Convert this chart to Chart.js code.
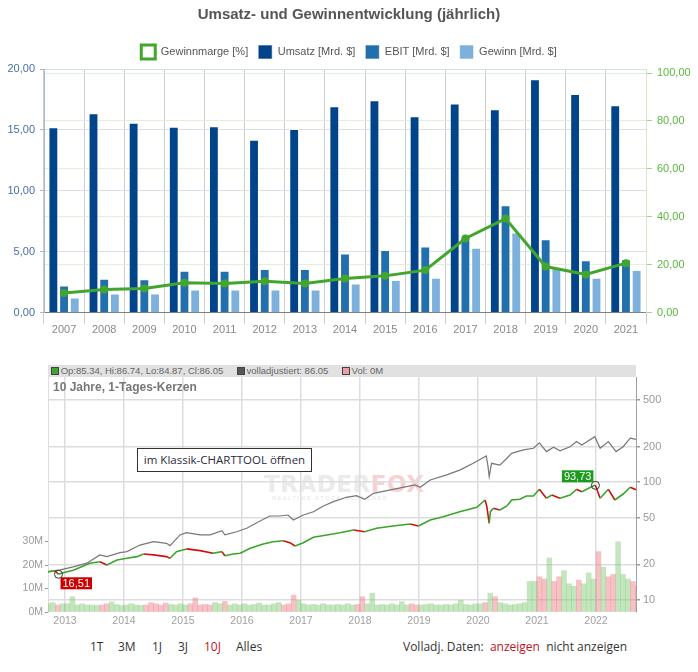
<!DOCTYPE html>
<html>
<head>
<meta charset="utf-8">
<script src="https://cdn.jsdelivr.net/npm/chart.js@4.4.1/dist/chart.umd.min.js"></script>
<style>
  body { margin: 0; background: #fff; font-family: "Liberation Sans", Arial, sans-serif; }
  #wrap { position: relative; width: 698px; height: 672px; overflow: hidden; }
  #c1 { position: absolute; left: 0; top: 0; }
  #c2 { position: absolute; left: 0; top: 360px; z-index: 2; }
  .hdr { position: absolute; left: 48px; top: 365px; width: 588px; height: 12px; background: #e1e1e1; z-index: 3;
         font-size: 9.5px; color: #666; line-height: 12px; white-space: nowrap; }
  .hdr span.sq { display: inline-block; width: 6px; height: 6px; border: 1px solid #444; vertical-align: -1px; margin-right: 2px; }
  .sub { position: absolute; left: 53px; top: 380px; font-size: 12px; font-weight: bold; color: #777; z-index: 3; }
  .wm { position: absolute; left: 264px; top: 471px; font-family: "DejaVu Sans", sans-serif; font-weight: bold;
        font-size: 23px; letter-spacing: 0.5px; color: #ebebeb; z-index: 1; }
  .wm b { color: #f8d2d2; }
  .wm2 { position: absolute; left: 272px; top: 495px; font-size: 5.5px; letter-spacing: 1.6px; color: #e6e6e6; z-index: 1; }
  .btn { position: absolute; left: 137px; top: 448px; width: 173px; height: 22px; border: 1px solid #333; background: #fff;
         font-family: "Open Sans", sans-serif; font-size: 11.5px; color: #2b2b3b; line-height: 22px; text-align: center; z-index: 3; }
  .lnk { position: absolute; top: 638px; font-family: "Open Sans", sans-serif; font-size: 12px; color: #333; white-space: nowrap; }
  .red { color: #c0141c; }
</style>
</head>
<body>
<div id="wrap">
  <canvas id="c1" width="698" height="337"></canvas>

  <div class="wm">TRADER<b>FOX</b></div>
  <div class="wm2">REALTIME STOCK SCREENER</div>
  <canvas id="c2" width="698" height="275"></canvas>

  <div class="hdr">
    &nbsp;<span class="sq" style="background:#3da52e"></span>Op:85.34, Hi:86.74, Lo:84.87, Cl:86.05
    &nbsp;&nbsp;&nbsp;&nbsp;<span class="sq" style="background:#555"></span>volladjustiert: 86.05
    &nbsp;&nbsp;&nbsp;&nbsp;<span class="sq" style="background:#eaa0a8"></span>Vol: 0M
  </div>
  <div class="sub">10 Jahre, 1-Tages-Kerzen</div>
  <div class="btn">im Klassik-CHARTTOOL öffnen</div>

  <span class="lnk" style="left:90px">1T</span>
  <span class="lnk" style="left:118px">3M</span>
  <span class="lnk" style="left:152px">1J</span>
  <span class="lnk" style="left:178px">3J</span>
  <span class="lnk red" style="left:204px">10J</span>
  <span class="lnk" style="left:236px">Alles</span>
  <span class="lnk" style="left:403px">Volladj. Daten: <span class="red">&nbsp;anzeigen</span>&nbsp; nicht anzeigen</span>
</div>

<script>
// --- annual figures (top chart) ---
const years = ['2007', '2008', '2009', '2010', '2011', '2012', '2013', '2014', '2015', '2016', '2017', '2018', '2019', '2020', '2021'];
const umsatz = [15.22, 16.37, 15.6, 15.27, 15.3, 14.2, 15.08, 16.94, 17.43, 16.12, 17.16, 16.69, 19.15, 17.95, 17.02];
const ebit = [2.24, 2.79, 2.76, 3.44, 3.44, 3.6, 3.6, 4.86, 5.16, 5.44, 6.2, 8.83, 6.04, 4.32, 4.4];
const gewinn = [1.26, 1.58, 1.58, 1.91, 1.91, 1.91, 1.91, 2.4, 2.7, 2.87, 5.33, 6.58, 3.74, 2.87, 3.52];
const marge = [8.3, 9.7, 10.1, 12.5, 12.2, 13.2, 12.2, 14.3, 15.4, 17.8, 31.0, 39.3, 19.3, 16.0, 20.7];
const margeTicks = [0, 20, 40, 60, 80, 100];

// --- 10 year price chart (bottom) ---
const priceT = [2012.71, 2012.83, 2012.89, 2012.97, 2013.14, 2013.42, 2013.59, 2013.71, 2013.88, 2014.05,
  2014.22, 2014.33, 2014.50, 2014.72, 2014.78, 2014.89, 2015.06, 2015.29, 2015.51, 2015.66,
  2015.71, 2015.85, 2015.97, 2016.14, 2016.36, 2016.53, 2016.70, 2016.81, 2016.90, 2017.04,
  2017.21, 2017.44, 2017.66, 2017.89, 2018.08, 2018.28, 2018.56, 2018.85, 2018.99, 2019.19,
  2019.41, 2019.69, 2019.98, 2020.12, 2020.15, 2020.19, 2020.21, 2020.26, 2020.37, 2020.49,
  2020.57, 2020.71, 2020.82, 2020.94, 2021.04, 2021.16, 2021.25, 2021.39, 2021.56, 2021.67,
  2021.76, 2021.95, 2021.99, 2022.07, 2022.21, 2022.32, 2022.46, 2022.58, 2022.678];
const priceV = [17.3, 17.7, 16.51, 17.0, 17.9, 20.5, 21.1, 19.8, 21.8, 22.6,
  23.3, 24.5, 24.1, 23.3, 22.6, 25.7, 27.1, 26.2, 24.9, 25.7,
  23.7, 24.5, 24.9, 27.4, 29.8, 31.2, 31.8, 30.6, 28.7, 30.6,
  34.0, 35.6, 37.2, 39.2, 37.9, 40.5, 42.4, 44.1, 42.4, 47.6,
  50.8, 56.0, 61.1, 70.4, 61.8, 44.7, 56.0, 59.8, 57.9, 62.6,
  70.4, 71.3, 76.0, 76.0, 86.7, 72.8, 77.6, 72.8, 77.6, 86.7,
  82.8, 92.5, 93.73, 72.8, 86.7, 70.4, 79.1, 90.2, 86.05];

const adjT = [2012.71, 2012.92, 2013.14, 2013.37, 2013.59, 2013.71, 2013.93, 2014.05, 2014.27, 2014.50,
  2014.72, 2014.78, 2014.95, 2015.06, 2015.29, 2015.46, 2015.66, 2015.71, 2015.91, 2016.08,
  2016.25, 2016.47, 2016.64, 2016.78, 2016.87, 2017.04, 2017.21, 2017.38, 2017.55, 2017.77,
  2017.94, 2018.08, 2018.23, 2018.56, 2018.93, 2019.02, 2019.19, 2019.47, 2019.69, 2019.92,
  2020.14, 2020.17, 2020.19, 2020.23, 2020.37, 2020.49, 2020.57, 2020.77, 2020.94, 2021.04,
  2021.16, 2021.28, 2021.39, 2021.56, 2021.67, 2021.76, 2021.98, 2022.07, 2022.21, 2022.34,
  2022.46, 2022.58, 2022.678];
const adjV = [17.4, 18.0, 19.1, 20.5, 24.1, 23.3, 25.2, 25.7, 29.2, 31.2,
  30.2, 28.9, 35.6, 37.2, 35.6, 35.6, 38.7, 35.6, 37.9, 40.5,
  45.2, 51.5, 51.5, 52.5, 47.6, 52.5, 56.0, 62.6, 68.1, 74.2,
  76.5, 71.3, 80.2, 86.7, 94.4, 90.2, 104, 115, 126, 144,
  166, 135, 111, 144, 139, 159, 175, 187, 193, 215,
  181, 197, 184, 199, 220, 206, 242, 193, 220, 181,
  199, 235, 230];

// monthly volume in millions, Sep 2012 .. Sep 2022
const volStart = 2012 + 8 / 12;
const volM = [3.5, 4, 3, 3.5,
  3.5, 6.5, 3, 3.5, 3, 3, 2.8, 3, 3.5, 4.3, 3.2, 2.8,
  3, 3.5, 3, 2.8, 3, 4, 3.5, 3, 3.8, 3.2, 3, 3.5,
  3, 3.5, 6, 3, 3.2, 3, 4, 3.5, 4.5, 3, 3.5, 3,
  3.5, 3, 3.2, 3.8, 3, 3, 3.5, 4, 3, 3.5, 7.2, 5,
  3.5, 3, 3.2, 3, 3.5, 3, 3, 3.2, 3, 3.5, 3, 3.2,
  6.5, 3.5, 8, 3, 3.2, 3, 3.5, 3, 4.4, 3, 3.5, 3,
  3, 3.2, 3.5, 3, 3, 3.2, 3, 3.5, 5, 3.2, 3, 3.5,
  3.5, 4, 8, 6.5, 4, 3.5, 3, 3.2, 3.5, 4, 13, 13,
  15, 14, 23, 13, 15, 17.6, 12, 11, 13.6, 12, 16.6, 14,
  25.7, 19, 15, 16, 29.9, 16, 14, 13, 11];

const tickYears = [2013, 2014, 2015, 2016, 2017, 2018, 2019, 2020, 2021, 2022];
const priceTicks = [10, 20, 50, 100, 200, 500];
const volTicks = [0, 10, 20, 30];

const fmtDe = v => v.toLocaleString('de-DE', { minimumFractionDigits: 2, maximumFractionDigits: 2 });

// Top chart: Umsatz / EBIT / Gewinn bars + margin line
new Chart(document.getElementById('c1'), {
  type: 'bar',
  data: {
    labels: years,
    datasets: [
      {
        type: 'line', label: 'Gewinnmarge [%]', data: marge, yAxisID: 'y2', order: 0,
        borderColor: '#42a62c', backgroundColor: '#fff', borderWidth: 3,
        pointRadius: 4, pointBackgroundColor: '#42a62c', pointBorderColor: '#42a62c', pointBorderWidth: 0
      },
      { label: 'Umsatz [Mrd. $]', data: umsatz, backgroundColor: '#02448a', order: 1 },
      { label: 'EBIT [Mrd. $]', data: ebit, backgroundColor: '#226fae', order: 1 },
      { label: 'Gewinn [Mrd. $]', data: gewinn, backgroundColor: '#7db1dc', order: 1 }
    ]
  },
  options: {
    responsive: false,
    animation: false,
    datasets: {
      bar: { categoryPercentage: 0.8, barPercentage: 0.92, borderColor: 'rgba(255,255,255,0.6)', borderWidth: 1 }
    },
    plugins: {
      title: {
        display: true, text: 'Umsatz- und Gewinnentwicklung (jährlich)', color: '#555',
        font: { size: 15, weight: 'bold', family: '"Liberation Sans", Arial' }, padding: { top: 6, bottom: 11 }
      },
      legend: {
        labels: { boxWidth: 14, boxHeight: 14, padding: 10, color: '#555', font: { size: 11, family: '"Liberation Sans", Arial' } }
      },
      tooltip: { enabled: false }
    },
    scales: {
      x: {
        grid: { color: '#cccccc', offset: true, tickLength: 11 },
        border: { color: '#808080' },
        ticks: { color: '#8a8a8a', padding: 0, font: { size: 11, family: '"Liberation Sans", Arial' } }
      },
      y: {
        position: 'left', min: 0, max: 20,
        ticks: { stepSize: 5, color: '#4670a6', padding: 5, callback: fmtDe, font: { size: 11, family: '"Liberation Sans", Arial' } },
        grid: { color: '#d6dfea', tickLength: 4, tickColor: '#aab8cc' },
        border: { color: '#a9b9cd' },
        afterFit: s => { s.width = 44; }
      },
      y2: {
        position: 'right', min: 0, max: 101.67,
        afterBuildTicks: s => { s.ticks = margeTicks.map(v => ({ value: v })); },
        ticks: { color: '#5bb83f', padding: 5, callback: fmtDe, font: { size: 11, family: '"Liberation Sans", Arial' } },
        grid: { color: '#e2f0da', tickLength: 6, tickColor: '#9cd38a' },
        border: { color: '#d5e8cc' },
        afterFit: s => { s.width = 52; }
      }
    }
  }
});

// helper only used to pick the up/down colour of a volume bar
function priceAt(t) {
  for (let i = 1; i < priceT.length; i++) {
    if (t <= priceT[i]) {
      const f = (t - priceT[i - 1]) / (priceT[i] - priceT[i - 1]);
      return priceV[i - 1] + f * (priceV[i] - priceV[i - 1]);
    }
  }
  return priceV[priceV.length - 1];
}

const volData = volM.map((v, i) => ({ x: volStart + i / 12 + 1 / 24, y: v }));
const volColors = volData.map(d => priceAt(d.x + 1 / 30) >= priceAt(d.x - 1 / 30) ? 'rgba(125,200,110,0.45)' : 'rgba(236,120,128,0.45)');

const lowIdx = priceV.indexOf(Math.min(...priceV));
const highIdx = priceV.indexOf(Math.max(...priceV));

// circles + value flags at the 10y low and high
const markerPlugin = {
  id: 'markers',
  afterDatasetsDraw(chart) {
    const { ctx, scales } = chart;
    const marks = [
      { i: lowIdx, color: '#cc0000', below: true },
      { i: highIdx, color: '#1b9a1b', below: false }
    ];
    marks.forEach(m => {
      const px = scales.x.getPixelForValue(priceT[m.i]);
      const py = scales.yp.getPixelForValue(priceV[m.i]);
      ctx.save();
      ctx.strokeStyle = '#333';
      ctx.lineWidth = 1;
      ctx.beginPath();
      ctx.arc(px, py, 4, 0, Math.PI * 2);
      ctx.stroke();
      const txt = priceV[m.i].toFixed(2).replace('.', ',');
      ctx.font = '11px "Liberation Sans", Arial';
      const w = ctx.measureText(txt).width + 4;
      const h = 12;
      const bx = m.below ? px + 2 : px - w - 2;
      const by = m.below ? py + 3 : py - h - 3;
      ctx.fillStyle = m.color;
      ctx.fillRect(bx, by, w, h);
      ctx.fillStyle = '#fff';
      ctx.textBaseline = 'middle';
      ctx.fillText(txt, bx + 2, by + h / 2 + 0.5);
      ctx.restore();
    });
  }
};

// Bottom chart: price, adjusted price (log) and volume
new Chart(document.getElementById('c2'), {
  type: 'line',
  data: {
    datasets: [
      {
        label: 'Kurs', data: priceT.map((t, i) => ({ x: t, y: priceV[i] })), yAxisID: 'yp', order: 0,
        borderWidth: 1.6, pointRadius: 0,
        segment: { borderColor: c => c.p1.parsed.y >= c.p0.parsed.y ? '#3aa52a' : '#d01010' }
      },
      {
        label: 'volladjustiert', data: adjT.map((t, i) => ({ x: t, y: adjV[i] })), yAxisID: 'yp', order: 1,
        borderColor: '#777777', borderWidth: 1.2, pointRadius: 0
      },
      {
        type: 'bar', label: 'Vol', data: volData, yAxisID: 'yv', order: 2,
        backgroundColor: volColors, borderWidth: 0, barPercentage: 1, categoryPercentage: 1
      }
    ]
  },
  options: {
    responsive: false,
    animation: false,
    layout: { padding: { top: 17, left: 0, right: 0, bottom: 0 } },
    plugins: { legend: { display: false }, tooltip: { enabled: false } },
    scales: {
      x: {
        type: 'linear', min: 2012.712, max: 2022.678, offset: false,
        afterBuildTicks: s => { s.ticks = tickYears.map(v => ({ value: v })); },
        ticks: { callback: v => String(v), color: '#a0a0a0', padding: 3, maxRotation: 0, font: { size: 10.5, family: '"Liberation Sans", Arial' } },
        grid: { color: '#dddddd', lineWidth: 1.5, drawTicks: false, offset: false },
        border: { display: false },
        afterFit: s => { s.height = 23; }
      },
      yp: {
        type: 'logarithmic', position: 'right', min: 7.91, max: 776,
        afterBuildTicks: s => { s.ticks = priceTicks.map(v => ({ value: v })); },
        ticks: { callback: v => String(v), color: '#9a9a9a', padding: 3, font: { size: 11, family: '"Liberation Sans", Arial' } },
        grid: { color: '#dddddd', lineWidth: 1.5, tickLength: 4, tickColor: '#999' },
        border: { color: '#a0a0a0' },
        afterFit: s => { s.width = 62; }
      },
      yv: {
        type: 'linear', position: 'left', min: 0, max: 100,
        afterBuildTicks: s => { s.ticks = volTicks.map(v => ({ value: v })); },
        ticks: { callback: v => v + 'M', color: '#9a9a9a', padding: 2, font: { size: 10.5, family: '"Liberation Sans", Arial' } },
        grid: { drawOnChartArea: false, tickLength: 3, tickColor: '#999' },
        border: { color: '#dddddd' },
        afterFit: s => { s.width = 48; }
      }
    }
  },
  plugins: [markerPlugin]
});
</script>
</body>
</html>
